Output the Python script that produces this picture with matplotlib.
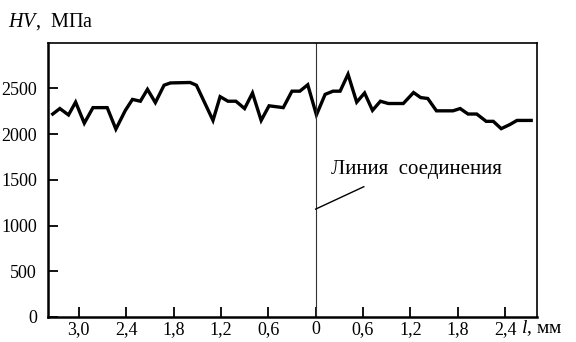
import matplotlib
matplotlib.use('Agg')
import matplotlib.pyplot as plt

plt.rcParams.update({
    'font.family': 'Liberation Serif',
    'mathtext.fontset': 'custom',
    'mathtext.it': 'Liberation Serif:italic',
    'mathtext.rm': 'Liberation Serif',
})

# distance from joint line, mm (negative = left side), and microhardness HV, MPa
dist = [-3.33, -3.24, -3.13, -3.04, -2.93, -2.82, -2.64, -2.53, -2.41, -2.32,
        -2.22, -2.13, -2.03, -1.92, -1.84, -1.59, -1.51, -1.30, -1.21, -1.11,
        -1.01, -0.90, -0.80, -0.69, -0.59, -0.41, -0.30, -0.20, -0.10, 0.01,
        0.12, 0.22, 0.31, 0.41, 0.52, 0.62, 0.72, 0.82, 0.92, 1.11,
        1.24, 1.33, 1.42, 1.53, 1.74, 1.83, 1.93, 2.04, 2.16, 2.25,
        2.35, 2.46, 2.55, 2.73]
hv = [2220, 2280, 2210, 2350, 2120, 2290, 2290, 2055, 2260, 2380,
      2360, 2490, 2345, 2535, 2560, 2565, 2535, 2150, 2410, 2360,
      2360, 2280, 2450, 2150, 2310, 2290, 2470, 2470, 2540, 2210,
      2435, 2470, 2470, 2655, 2350, 2450, 2260, 2360, 2335, 2335,
      2455, 2400, 2390, 2255, 2255, 2280, 2220, 2220, 2140, 2140,
      2060, 2105, 2150, 2150]

xticks = [-3.0, -2.4, -1.8, -1.2, -0.6, 0, 0.6, 1.2, 1.8, 2.4]
xtick_labels = ['3,0', '2,4', '1,8', '1,2', '0,6', '0', '0,6', '1,2', '1,8', '2,4']
yticks = [0, 500, 1000, 1500, 2000, 2500]

fig = plt.figure(figsize=(5.76, 3.42), dpi=100)
ax = fig.add_axes([0.0833, 0.0731, 0.8485, 0.802])

ax.plot(dist, hv, color='black', linewidth=2.4, solid_joinstyle='miter')
ax.axvline(0, color='#333333', linewidth=0.8)

# leader line to the joint
ax.plot([0, 0.61], [1180, 1425], color='black', linewidth=1.0)
ax.text(0.20, 1610, 'Линия  соединения', fontsize=15, ha='left', va='center')

ax.set_xlim(-3.39, 2.80)
ax.set_ylim(0, 3000)
ax.set_xticks(xticks)
ax.set_xticklabels(xtick_labels)
ax.set_yticks(yticks)
ax.tick_params(direction='in', length=7, width=1.3, labelsize=13)
ax.tick_params(axis='x', pad=3)
ax.tick_params(axis='y', pad=8)

for side in ['left', 'bottom']:
    ax.spines[side].set_linewidth(1.8)
for side in ['top', 'right']:
    ax.spines[side].set_linewidth(1.2)

fig.text(0.014, 0.936, r'$HV$,  МПа', fontsize=14.5, ha='left', va='center')
fig.text(0.905, 0.041, r'$l$, мм', fontsize=14, ha='left', va='center')

fig.savefig('out.png', dpi=100)
